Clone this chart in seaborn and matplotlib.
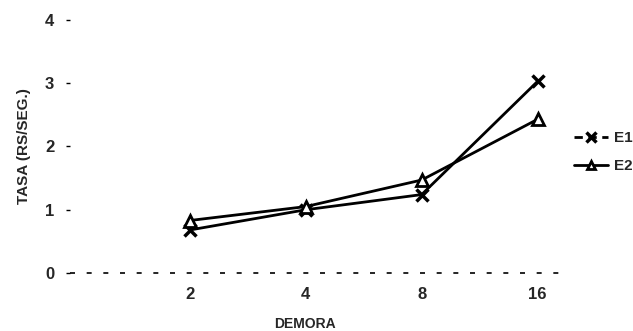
import matplotlib
matplotlib.use("Agg")
import matplotlib.pyplot as plt
import seaborn as sns
import pandas as pd
from matplotlib.lines import Line2D

demora = [2, 4, 8, 16]
e1 = [0.68, 1.00, 1.24, 3.03]
e2 = [0.83, 1.05, 1.47, 2.43]
series_names = ["E1", "E2"]
yticks = [0, 1, 2, 3, 4]

df1 = pd.DataFrame({"DEMORA": demora, "TASA": e1})
df2 = pd.DataFrame({"DEMORA": demora, "TASA": e2})

sns.set_theme(style="white")
plt.rcParams["font.family"] = ["Liberation Sans", "DejaVu Sans"]
plt.rcParams["font.weight"] = "bold"

fig = plt.figure(figsize=(6.33, 3.31), dpi=100)
ax = fig.add_axes([0.110, 0.175, 0.775, 0.765])

sns.lineplot(data=df1, x="DEMORA", y="TASA", color="black", marker="x",
             markersize=8, markeredgewidth=2.5, mec="black",
             linewidth=2, ax=ax)
sns.lineplot(data=df2, x="DEMORA", y="TASA", color="black", marker="^",
             markersize=8, markeredgewidth=2, mfc="white", mec="black",
             linewidth=2, ax=ax)

ax.set_xscale("log", base=2)
ax.set_xlim(0.977, 18.3)
ax.set_ylim(0, 4)
ax.set_xticks(demora)
ax.set_xticklabels([str(d) for d in demora])
ax.minorticks_off()
ax.set_yticks(yticks)
ax.set_yticklabels([str(t) for t in yticks])
for s in ax.spines.values():
    s.set_visible(False)
ax.axhline(0, color="black", lw=1.2, dashes=(3, 7), clip_on=False)
ax.tick_params(axis="y", left=True, length=3, width=1, pad=8, labelsize=12, color="black")
ax.tick_params(axis="x", bottom=False, pad=4, labelsize=12)
for lab in ax.get_xticklabels() + ax.get_yticklabels():
    lab.set_fontweight("bold")

ax.set_xlabel("DEMORA", fontsize=10, fontweight="bold")
ax.xaxis.set_label_coords(0.48, -0.175)
ax.xaxis.label.set_verticalalignment("top")
ax.set_ylabel("TASA (RS/SEG.)", fontsize=11, fontweight="bold", labelpad=10)

handles = [
    Line2D([], [], color="black", lw=2, marker="x", markersize=7, markeredgewidth=2.5, dashes=(3, 2)),
    Line2D([], [], color="black", lw=2, marker="^", markersize=6, markeredgewidth=2, mfc="white"),
]
fig.legend(handles, series_names, loc="upper left", bbox_to_anchor=(0.885, 0.645),
           frameon=False, handlelength=2.2, handletextpad=0.4, labelspacing=0.9,
           prop={"weight": "bold", "size": 11})

fig.savefig("out.png", dpi=100)
